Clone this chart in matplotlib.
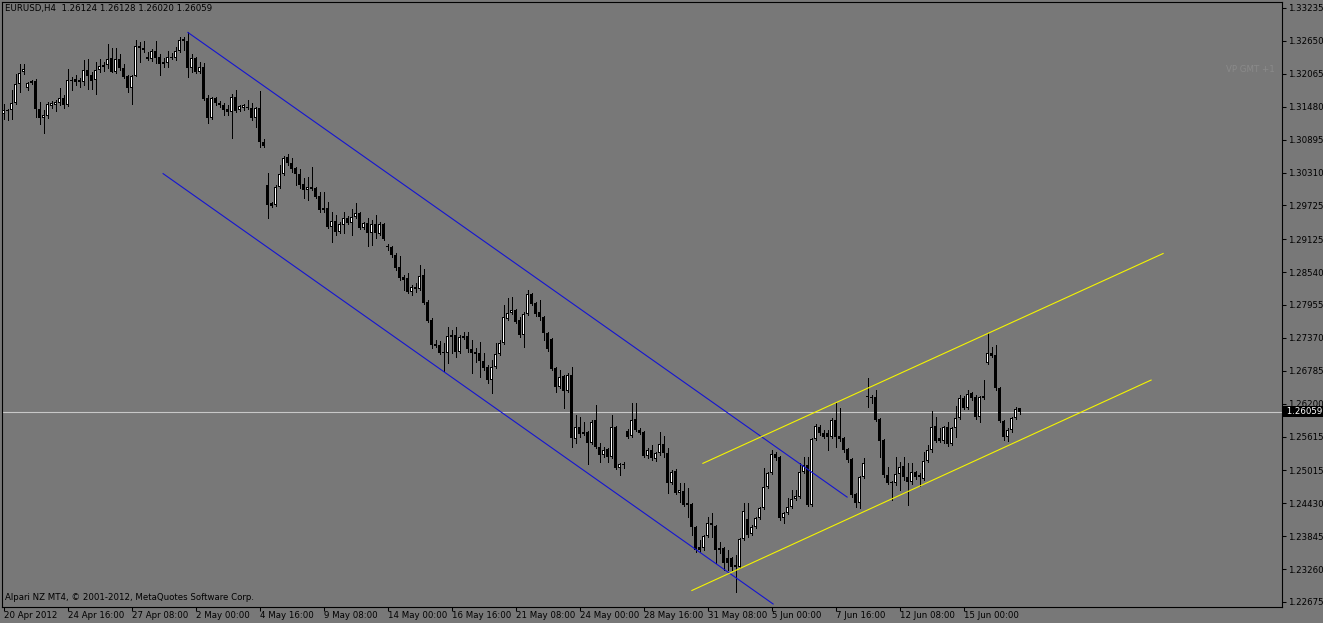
import numpy as np
import matplotlib
matplotlib.use("Agg")
import matplotlib.pyplot as plt
import matplotlib.transforms as mtransforms

# ---------------------------------------
# Data (EURUSD, H4, one bar every 4 hours)
# ---------------------------------------

opens = [
    1.3135, 1.3140, 1.3142, 1.3155, 1.3188, 1.3210, 1.3181, 1.3190, 1.3194, 1.3144,
    1.3128, 1.3132, 1.3149, 1.3151, 1.3155, 1.3164, 1.3151, 1.3196, 1.3197, 1.3196,
    1.3192, 1.3213, 1.3204, 1.3196, 1.3213, 1.3219, 1.3222, 1.3235, 1.3210, 1.3233,
    1.3217, 1.3203, 1.3181, 1.3203, 1.3256, 1.3252, 1.3236, 1.3233, 1.3247, 1.3236,
    1.3228, 1.3226, 1.3236, 1.3235, 1.3247, 1.3268, 1.3265, 1.3217, 1.3235, 1.3210,
    1.3219, 1.3164, 1.3128, 1.3164, 1.3155, 1.3151, 1.3144, 1.3139, 1.3165, 1.3142,
    1.3146, 1.3148, 1.3146, 1.3128, 1.3146, 1.3085, 1.3009, 1.2977, 1.2973, 1.3005,
    1.3028, 1.3059, 1.3048, 1.3039, 1.3028, 1.3011, 1.3000, 1.3005, 1.3004, 1.2989,
    1.2968, 1.2968, 1.2934, 1.2945, 1.2925, 1.2938, 1.2950, 1.2941, 1.2952, 1.2959,
    1.2932, 1.2941, 1.2924, 1.2940, 1.2922, 1.2940, 1.2900, 1.2899, 1.2884, 1.2863,
    1.2845, 1.2844, 1.2819, 1.2828, 1.2824, 1.2849, 1.2801, 1.2769, 1.2726, 1.2724,
    1.2712, 1.2710, 1.2742, 1.2742, 1.2712, 1.2737, 1.2740, 1.2717, 1.2712, 1.2710,
    1.2696, 1.2685, 1.2662, 1.2685, 1.2708, 1.2728, 1.2771, 1.2781, 1.2787, 1.2769,
    1.2742, 1.2780, 1.2815, 1.2799, 1.2783, 1.2774, 1.2746, 1.2735, 1.2684, 1.2650,
    1.2669, 1.2643, 1.2671, 1.2557, 1.2579, 1.2570, 1.2570, 1.2550, 1.2591, 1.2543,
    1.2529, 1.2540, 1.2525, 1.2579, 1.2506, 1.2513, 1.2572, 1.2563, 1.2593, 1.2573,
    1.2570, 1.2527, 1.2538, 1.2522, 1.2532, 1.2548, 1.2532, 1.2479, 1.2500, 1.2461,
    1.2465, 1.2444, 1.2442, 1.2401, 1.2365, 1.2364, 1.2385, 1.2408, 1.2403, 1.2360,
    1.2364, 1.2346, 1.2346, 1.2333, 1.2330, 1.2380, 1.2415, 1.2388, 1.2401, 1.2417,
    1.2435, 1.2472, 1.2497, 1.2531, 1.2525, 1.2417, 1.2426, 1.2436, 1.2451, 1.2454,
    1.2499, 1.2511, 1.2440, 1.2557, 1.2579, 1.2568, 1.2568, 1.2561, 1.2591, 1.2563,
    1.2559, 1.2540, 1.2522, 1.2460, 1.2444, 1.2490, 1.2634, 1.2632, 1.2632, 1.2593,
    1.2556, 1.2493, 1.2481, 1.2479, 1.2495, 1.2509, 1.2490, 1.2481, 1.2499, 1.2490,
    1.2486, 1.2518, 1.2538, 1.2580, 1.2559, 1.2554, 1.2579, 1.2548, 1.2577, 1.2595,
    1.2630, 1.2612, 1.2639, 1.2632, 1.2596, 1.2630, 1.2692, 1.2710, 1.2707, 1.2648,
    1.2589, 1.2561, 1.2573, 1.2595, 1.26124,
]

highs = [
    1.3153, 1.3144, 1.3178, 1.3206, 1.3224, 1.3224, 1.3192, 1.3196, 1.3197, 1.3156,
    1.3142, 1.3156, 1.3158, 1.3160, 1.3181, 1.3169, 1.3215, 1.3201, 1.3204, 1.3199,
    1.3231, 1.3233, 1.3210, 1.3228, 1.3233, 1.3228, 1.3260, 1.3252, 1.3252, 1.3242,
    1.3224, 1.3204, 1.3204, 1.3267, 1.3263, 1.3265, 1.3245, 1.3251, 1.3265, 1.3242,
    1.3235, 1.3247, 1.3243, 1.3254, 1.3272, 1.3272, 1.3281, 1.3242, 1.3236, 1.3228,
    1.3226, 1.3169, 1.3165, 1.3165, 1.3158, 1.3155, 1.3151, 1.3171, 1.3178, 1.3151,
    1.3153, 1.3160, 1.3155, 1.3148, 1.3176, 1.3091, 1.3030, 1.2979, 1.3009, 1.3044,
    1.3060, 1.3064, 1.3057, 1.3041, 1.3037, 1.3021, 1.3023, 1.3041, 1.3005, 1.2996,
    1.2996, 1.2979, 1.2961, 1.2956, 1.2943, 1.2961, 1.2954, 1.2966, 1.2977, 1.2961,
    1.2943, 1.2950, 1.2947, 1.2956, 1.2943, 1.2941, 1.2904, 1.2900, 1.2888, 1.2883,
    1.2849, 1.2852, 1.2831, 1.2835, 1.2867, 1.2860, 1.2804, 1.2772, 1.2733, 1.2732,
    1.2728, 1.2756, 1.2751, 1.2756, 1.2742, 1.2748, 1.2748, 1.2733, 1.2719, 1.2730,
    1.2710, 1.2689, 1.2698, 1.2728, 1.2733, 1.2796, 1.2808, 1.2810, 1.2788, 1.2774,
    1.2783, 1.2822, 1.2817, 1.2801, 1.2804, 1.2776, 1.2748, 1.2737, 1.2685, 1.2680,
    1.2671, 1.2675, 1.2685, 1.2600, 1.2596, 1.2588, 1.2572, 1.2591, 1.2618, 1.2550,
    1.2543, 1.2541, 1.2600, 1.2580, 1.2515, 1.2516, 1.2575, 1.2621, 1.2621, 1.2577,
    1.2572, 1.2541, 1.2547, 1.2534, 1.2570, 1.2563, 1.2541, 1.2502, 1.2504, 1.2479,
    1.2479, 1.2470, 1.2444, 1.2403, 1.2378, 1.2387, 1.2419, 1.2426, 1.2404, 1.2374,
    1.2365, 1.2360, 1.2348, 1.2351, 1.2381, 1.2444, 1.2444, 1.2404, 1.2419, 1.2436,
    1.2506, 1.2499, 1.2538, 1.2534, 1.2527, 1.2428, 1.2452, 1.2467, 1.2467, 1.2515,
    1.2525, 1.2525, 1.2559, 1.2584, 1.2582, 1.2573, 1.2573, 1.2595, 1.2623, 1.2612,
    1.2561, 1.2541, 1.2524, 1.2461, 1.2492, 1.2524, 1.2666, 1.2636, 1.2644, 1.2595,
    1.2557, 1.2508, 1.2483, 1.2525, 1.2516, 1.2525, 1.2515, 1.2515, 1.2500, 1.2497,
    1.2534, 1.2547, 1.2607, 1.2596, 1.2577, 1.2580, 1.2588, 1.2579, 1.2616, 1.2636,
    1.2634, 1.2644, 1.2641, 1.2636, 1.2634, 1.2662, 1.2746, 1.2721, 1.2724, 1.2650,
    1.2591, 1.2577, 1.2596, 1.2614, 1.26128,
]

lows = [
    1.3126, 1.3124, 1.3126, 1.3153, 1.3174, 1.3206, 1.3178, 1.3188, 1.3130, 1.3117,
    1.3101, 1.3128, 1.3146, 1.3140, 1.3151, 1.3146, 1.3149, 1.3178, 1.3187, 1.3183,
    1.3187, 1.3180, 1.3180, 1.3171, 1.3210, 1.3211, 1.3217, 1.3210, 1.3208, 1.3213,
    1.3199, 1.3174, 1.3153, 1.3203, 1.3228, 1.3245, 1.3231, 1.3229, 1.3226, 1.3204,
    1.3219, 1.3219, 1.3233, 1.3231, 1.3245, 1.3249, 1.3201, 1.3210, 1.3208, 1.3208,
    1.3160, 1.3119, 1.3126, 1.3151, 1.3148, 1.3133, 1.3133, 1.3092, 1.3139, 1.3140,
    1.3142, 1.3144, 1.3124, 1.3112, 1.3076, 1.3076, 1.2950, 1.2970, 1.2972, 1.3004,
    1.3027, 1.3044, 1.3032, 1.3009, 1.3004, 1.2986, 1.2982, 1.3000, 1.2986, 1.2961,
    1.2961, 1.2932, 1.2908, 1.2920, 1.2924, 1.2924, 1.2940, 1.2920, 1.2950, 1.2931,
    1.2931, 1.2900, 1.2902, 1.2915, 1.2920, 1.2911, 1.2893, 1.2881, 1.2858, 1.2840,
    1.2822, 1.2817, 1.2813, 1.2819, 1.2822, 1.2797, 1.2765, 1.2719, 1.2721, 1.2708,
    1.2678, 1.2692, 1.2710, 1.2703, 1.2710, 1.2735, 1.2712, 1.2675, 1.2694, 1.2668,
    1.2680, 1.2657, 1.2639, 1.2684, 1.2707, 1.2726, 1.2769, 1.2780, 1.2764, 1.2739,
    1.2721, 1.2778, 1.2796, 1.2776, 1.2769, 1.2733, 1.2714, 1.2680, 1.2641, 1.2648,
    1.2612, 1.2641, 1.2543, 1.2550, 1.2561, 1.2564, 1.2513, 1.2548, 1.2541, 1.2516,
    1.2525, 1.2516, 1.2524, 1.2504, 1.2493, 1.2506, 1.2559, 1.2561, 1.2572, 1.2566,
    1.2525, 1.2524, 1.2520, 1.2518, 1.2529, 1.2525, 1.2461, 1.2477, 1.2460, 1.2445,
    1.2438, 1.2419, 1.2387, 1.2356, 1.2356, 1.2360, 1.2383, 1.2383, 1.2337, 1.2355,
    1.2324, 1.2324, 1.2324, 1.2285, 1.2328, 1.2378, 1.2383, 1.2387, 1.2399, 1.2415,
    1.2433, 1.2470, 1.2495, 1.2520, 1.2413, 1.2408, 1.2424, 1.2435, 1.2449, 1.2452,
    1.2497, 1.2438, 1.2438, 1.2556, 1.2564, 1.2559, 1.2538, 1.2559, 1.2543, 1.2554,
    1.2534, 1.2516, 1.2454, 1.2436, 1.2435, 1.2488, 1.2614, 1.2621, 1.2589, 1.2525,
    1.2490, 1.2477, 1.2449, 1.2476, 1.2467, 1.2484, 1.2440, 1.2477, 1.2486, 1.2474,
    1.2484, 1.2516, 1.2534, 1.2552, 1.2552, 1.2550, 1.2545, 1.2547, 1.2561, 1.2593,
    1.2611, 1.2611, 1.2627, 1.2593, 1.2588, 1.2628, 1.2691, 1.2703, 1.2644, 1.2588,
    1.2556, 1.2554, 1.2570, 1.2593, 1.26020,
]

closes = [
    1.3142, 1.3142, 1.3155, 1.3188, 1.3208, 1.3215, 1.3190, 1.3194, 1.3144, 1.3128,
    1.3133, 1.3153, 1.3155, 1.3156, 1.3164, 1.3151, 1.3196, 1.3194, 1.3192, 1.3192,
    1.3213, 1.3203, 1.3194, 1.3213, 1.3220, 1.3222, 1.3233, 1.3210, 1.3233, 1.3217,
    1.3201, 1.3181, 1.3203, 1.3256, 1.3252, 1.3249, 1.3233, 1.3247, 1.3235, 1.3224,
    1.3224, 1.3236, 1.3235, 1.3247, 1.3267, 1.3265, 1.3217, 1.3235, 1.3210, 1.3219,
    1.3162, 1.3128, 1.3164, 1.3155, 1.3151, 1.3142, 1.3139, 1.3165, 1.3140, 1.3149,
    1.3151, 1.3146, 1.3128, 1.3146, 1.3085, 1.3078, 1.2973, 1.2972, 1.3005, 1.3028,
    1.3057, 1.3048, 1.3037, 1.3028, 1.3009, 1.3000, 1.3005, 1.3002, 1.2988, 1.2964,
    1.2964, 1.2934, 1.2945, 1.2925, 1.2940, 1.2950, 1.2941, 1.2952, 1.2959, 1.2932,
    1.2941, 1.2924, 1.2940, 1.2924, 1.2940, 1.2913, 1.2899, 1.2884, 1.2861, 1.2844,
    1.2840, 1.2819, 1.2828, 1.2824, 1.2847, 1.2799, 1.2767, 1.2724, 1.2723, 1.2710,
    1.2710, 1.2740, 1.2739, 1.2712, 1.2739, 1.2740, 1.2717, 1.2710, 1.2708, 1.2696,
    1.2684, 1.2662, 1.2685, 1.2708, 1.2728, 1.2774, 1.2781, 1.2787, 1.2765, 1.2742,
    1.2780, 1.2815, 1.2797, 1.2780, 1.2774, 1.2746, 1.2717, 1.2682, 1.2650, 1.2668,
    1.2643, 1.2671, 1.2559, 1.2579, 1.2566, 1.2566, 1.2550, 1.2588, 1.2543, 1.2529,
    1.2538, 1.2525, 1.2579, 1.2506, 1.2513, 1.2511, 1.2561, 1.2591, 1.2573, 1.2568,
    1.2527, 1.2538, 1.2524, 1.2532, 1.2548, 1.2532, 1.2479, 1.2499, 1.2461, 1.2467,
    1.2440, 1.2440, 1.2401, 1.2360, 1.2360, 1.2385, 1.2408, 1.2404, 1.2360, 1.2364,
    1.2337, 1.2337, 1.2330, 1.2330, 1.2380, 1.2429, 1.2387, 1.2401, 1.2417, 1.2435,
    1.2472, 1.2497, 1.2531, 1.2524, 1.2417, 1.2426, 1.2436, 1.2451, 1.2456, 1.2499,
    1.2511, 1.2440, 1.2557, 1.2580, 1.2568, 1.2561, 1.2561, 1.2591, 1.2561, 1.2557,
    1.2538, 1.2520, 1.2458, 1.2444, 1.2490, 1.2515, 1.2632, 1.2630, 1.2591, 1.2554,
    1.2493, 1.2479, 1.2479, 1.2495, 1.2508, 1.2490, 1.2481, 1.2499, 1.2490, 1.2493,
    1.2518, 1.2538, 1.2579, 1.2554, 1.2554, 1.2579, 1.2548, 1.2577, 1.2595, 1.2630,
    1.2612, 1.2637, 1.2630, 1.2596, 1.2632, 1.2634, 1.2710, 1.2705, 1.2648, 1.2589,
    1.2561, 1.2573, 1.2595, 1.2611, 1.26059,
]

# trend channels: (bar index, price) end points
blue_upper_bars = [46.1, 210.9]
blue_upper_prices = [1.3280, 1.2454]
blue_lower_bars = [39.9, 192.4]
blue_lower_prices = [1.3029, 1.2264]
yellow_upper_bars = [174.85, 289.9]
yellow_upper_prices = [1.2514, 1.2887]
yellow_lower_bars = [172.1, 286.9]
yellow_lower_prices = [1.2288, 1.2662]

bid_price = 1.26059

price_ticks = [1.33235, 1.32650, 1.32065, 1.31480, 1.30895, 1.30310, 1.29725,
               1.29125, 1.28540, 1.27955, 1.27370, 1.26785, 1.26200, 1.25615,
               1.25015, 1.24430, 1.23845, 1.23260, 1.22675]

date_ticks = [0, 16, 32, 48, 64, 80, 96, 112, 128, 144, 160, 176, 192, 208, 224, 240]
date_labels = ["20 Apr 2012", "24 Apr 16:00", "27 Apr 08:00", "2 May 00:00",
               "4 May 16:00", "9 May 08:00", "14 May 00:00", "16 May 16:00",
               "21 May 08:00", "24 May 00:00", "28 May 16:00", "31 May 08:00",
               "5 Jun 00:00", "7 Jun 16:00", "12 Jun 08:00", "15 Jun 00:00"]

# ---------------------------------------
# Figure
# ---------------------------------------

BG = "#787878"
W, H = 1323, 623
FS = 6.2
PX_BAR = 4.0                     # pixels per bar
PY = (1.33350 - 1.22595) / 605   # price per pixel

plt.rcParams["font.family"] = "DejaVu Sans"

fig = plt.figure(figsize=(W / 100, H / 100), dpi=100, facecolor=BG)
ax = fig.add_axes([2 / W, (H - 606.5) / H, 1280 / W, 605 / H])
ax.set_facecolor(BG)

o = np.array(opens)
h = np.array(highs)
l = np.array(lows)
c = np.array(closes)
x = np.arange(len(c))

up = c >= o
body_lo = np.minimum(o, c)
body_h = np.maximum(np.abs(c - o), PY)

# ---------------------------------------
# Candles
# ---------------------------------------

ax.axhline(bid_price, color="#c8c8c8", linewidth=0.8, zorder=1)

ax.vlines(x, l, h, color="black", linewidth=0.72, zorder=3, antialiased=False)

# black outer body (3 px), white 1 px core for bull candles
ax.bar(x, body_h, bottom=body_lo, width=3 / PX_BAR,
       color="black", linewidth=0, zorder=4, antialiased=False)

core = up & (body_h > 2.5 * PY)
ax.bar(x[core], body_h[core] - 2 * PY, bottom=body_lo[core] + PY,
       width=1 / PX_BAR, color="white", linewidth=0, zorder=5, antialiased=False)

# ---------------------------------------
# Channels
# ---------------------------------------

ax.plot(blue_upper_bars, blue_upper_prices, color="#1414d2", linewidth=0.8, zorder=6)
ax.plot(blue_lower_bars, blue_lower_prices, color="#1414d2", linewidth=0.8, zorder=6)
ax.plot(yellow_upper_bars, yellow_upper_prices, color="#f5f500", linewidth=0.8, zorder=6)
ax.plot(yellow_lower_bars, yellow_lower_prices, color="#f5f500", linewidth=0.8, zorder=6)

# ---------------------------------------
# Axes
# ---------------------------------------

ax.set_xlim(-1.5 / PX_BAR, -1.5 / PX_BAR + 1280 / PX_BAR)
ax.set_ylim(1.22595, 1.33350)

for s in ax.spines.values():
    s.set_color("black")
    s.set_linewidth(0.8)

ax.yaxis.tick_right()
ax.set_yticks(price_ticks)
ax.set_yticklabels([f"{p:.5f}" for p in price_ticks])
ax.tick_params(axis="y", direction="out", length=3, width=0.75,
               pad=1.5, labelsize=FS, colors="black")

ax.set_xticks(date_ticks)
ax.set_xticklabels(date_labels)
ax.tick_params(axis="x", direction="out", length=3, width=0.75,
               pad=0.5, labelsize=FS, colors="black")
for lab in ax.get_xticklabels():
    lab.set_horizontalalignment("left")

# current price box
trans = mtransforms.blended_transform_factory(ax.transAxes, ax.transData)
ax.text(1.0015, bid_price, " 1.26059 ", transform=trans, ha="left", va="center",
        fontsize=FS, color="white", clip_on=False, zorder=10,
        bbox=dict(facecolor="black", edgecolor="none", pad=0.8))

# ---------------------------------------
# Texts
# ---------------------------------------

fig.text(5 / W, 1 - 9 / H, "EURUSD,H4  1.26124 1.26128 1.26020 1.26059",
         ha="left", va="center", fontsize=FS, color="black")
fig.text(5 / W, 1 - 598 / H, "Alpari NZ MT4, \u00a9 2001-2012, MetaQuotes Software Corp.",
         ha="left", va="center", fontsize=FS, color="black")
fig.text(1275 / W, 1 - 70 / H, "VP GMT +1",
         ha="right", va="center", fontsize=FS, color="#8a8a8a")

plt.savefig("out.png", dpi=100, facecolor=BG)
